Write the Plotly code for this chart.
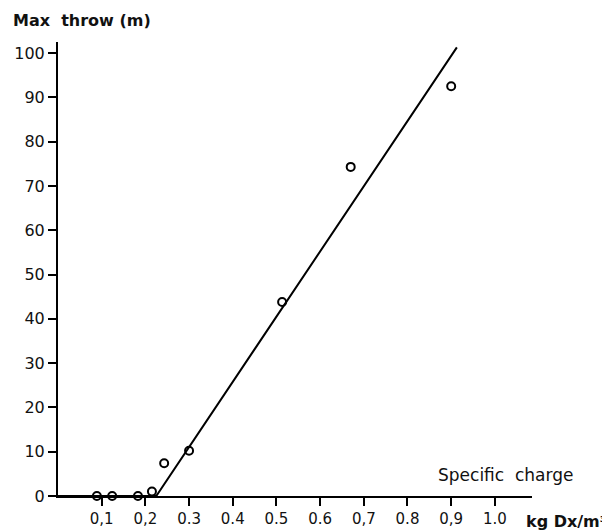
import plotly.graph_objects as go

# Data
charge = [0.089, 0.124, 0.183, 0.215, 0.243, 0.300, 0.513, 0.670, 0.900]
throw = [0.0, 0.0, 0.0, 1.0, 7.4, 10.2, 43.8, 74.3, 92.5]

fit_x = [0.0, 0.225, 0.913]
fit_y = [0.0, 0.0, 101.3]

x_tick_vals = [0.1, 0.2, 0.3, 0.4, 0.5, 0.6, 0.7, 0.8, 0.9, 1.0]
x_tick_text = ["0,1", "0,2", "0.3", "0.4", "0.5", "0.6", "0,7", "0.8", "0,9", "1.0"]
y_tick_vals = [0, 10, 20, 30, 40, 50, 60, 70, 80, 90, 100]

FONT = "DejaVu Sans, Liberation Sans, sans-serif"

fig = go.Figure()
fig.add_trace(go.Scatter(
    x=fit_x, y=fit_y, mode="lines",
    line=dict(color="black", width=2),
    cliponaxis=False, showlegend=False, hoverinfo="skip",
))
fig.add_trace(go.Scatter(
    x=charge, y=throw, mode="markers",
    marker=dict(symbol="circle-open", size=8, color="black", line=dict(width=2)),
    cliponaxis=False, showlegend=False,
))

fig.update_layout(
    width=610, height=531,
    margin=dict(l=50, r=86, t=34, b=43, autoexpand=False),
    paper_bgcolor="white", plot_bgcolor="white",
    font=dict(family=FONT, size=15, color="#111"),
    xaxis=dict(
        range=[0, 1.085], showgrid=False, zeroline=False,
        showline=True, linecolor="black", linewidth=2,
        ticks="outside", ticklen=8, tickwidth=1.8, tickcolor="black",
        tickvals=x_tick_vals, ticktext=x_tick_text,
        tickfont=dict(family=FONT, size=15, color="#111"),
        automargin=False,
    ),
    yaxis=dict(
        range=[0, 102.5], showgrid=False, zeroline=False,
        showline=True, linecolor="black", linewidth=2,
        ticks="outside", ticklen=8, tickwidth=1.8, tickcolor="black",
        tickvals=y_tick_vals,
        tickfont=dict(family=FONT, size=16, color="#111"),
        automargin=False,
    ),
    annotations=[
        dict(text="<b>Max  throw (m)</b>", xref="paper", yref="paper",
             x=-0.099, y=1.048, xanchor="left", yanchor="middle",
             showarrow=False, font=dict(family=FONT, size=16, color="#111")),
        dict(text="Specific  charge", xref="x", yref="y",
             x=1.025, y=4.7, xanchor="center", yanchor="middle",
             showarrow=False, font=dict(family=FONT, size=17, color="#111")),
        dict(text="<b>kg Dx/m³</b>", xref="paper", yref="paper",
             x=0.983, y=-0.03, xanchor="left", yanchor="top",
             showarrow=False, font=dict(family=FONT, size=16, color="#111")),
    ],
)

fig.write_html("out.html")
